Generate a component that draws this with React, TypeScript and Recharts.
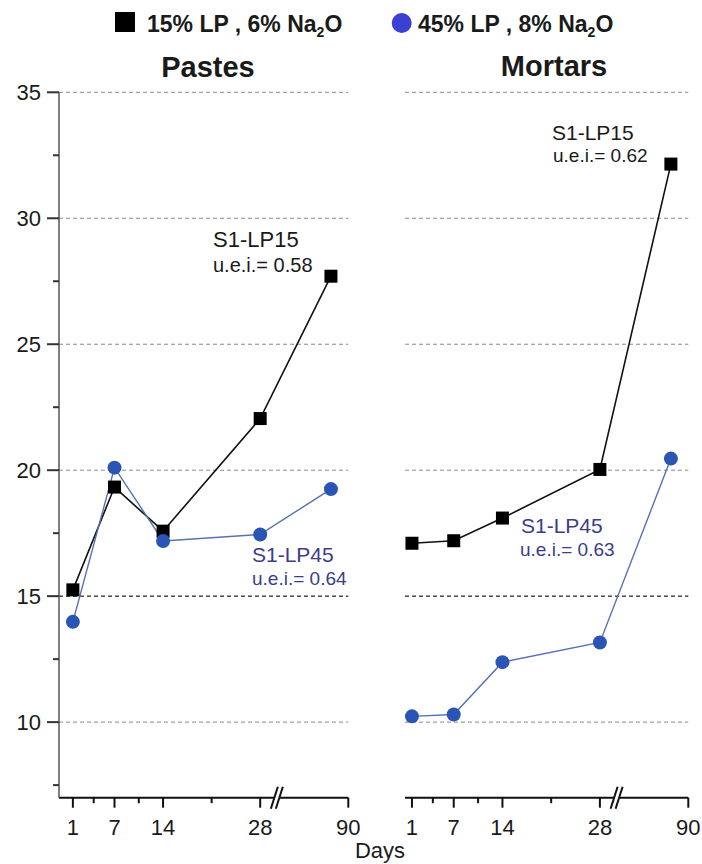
import React from 'react';
import { LineChart, Line, XAxis, YAxis, CartesianGrid, ReferenceLine } from 'recharts';

// curing age (days) and compressive strength readings
const days = [1, 7, 14, 28, 90];
const pastesLP15 = [15.25, 19.33, 17.58, 22.05, 27.7];
const pastesLP45 = [13.98, 20.1, 17.19, 17.45, 19.25];
const mortarsLP15 = [17.1, 17.2, 18.1, 20.03, 32.15];
const mortarsLP45 = [10.23, 10.3, 12.38, 13.16, 20.46];

const dayTickLabels = ['1', '7', '14', '28', '90'];
const minorDays = [4, 10.5, 21];
const yMajor = [10, 15, 20, 25, 30, 35];
const yMinor = [7.5, 12.5, 17.5, 22.5, 27.5, 32.5];

// broken x axis: everything after day 28 is squeezed
const BREAK_AT = 28;
const BREAK_SCALE = 0.1645;
const BREAK_MARK = 30.4;
const X_END = 40.7;
const axisPos = (d: number) => (d <= BREAK_AT ? d : BREAK_AT + (d - BREAK_AT) * BREAK_SCALE);
const majorPos = [1, 7, 14, 28, X_END];

const FONT = '"Liberation Sans", Arial, sans-serif';
const BLACK = '#111';
const BLUE_LINE = '#5571b3';
const BLUE_DOT = '#2a55b5';
const BLUE_TEXT = '#3c3c8c';

const buildRows = (a: number[], b: number[]) =>
  days.map((d, i) => ({ x: axisPos(d), lp15: a[i], lp45: b[i] }));

function XTick(props: any) {
  const { x, y, payload } = props;
  const v = payload.value;
  if (v === BREAK_MARK) {
    return (
      <g>
        <polygon points={`${x - 4},${y + 4} ${x},${y - 4} ${x + 5},${y - 4} ${x + 1},${y + 4}`} fill="#fff" />
        <line x1={x - 6} y1={y + 11} x2={x + 1} y2={y - 11} stroke={BLACK} strokeWidth={2} />
        <line x1={x - 1} y1={y + 11} x2={x + 6} y2={y - 11} stroke={BLACK} strokeWidth={2} />
      </g>
    );
  }
  const i = majorPos.indexOf(v);
  const major = i >= 0;
  return (
    <g>
      <line x1={x} x2={x} y1={y} y2={y + (major ? 10 : 5.5)} stroke={BLACK} strokeWidth={2} />
      {major && (
        <text x={x} y={y + 37} textAnchor="middle" fontSize={22} fontFamily={FONT} fill="#1a1a1a">
          {dayTickLabels[i]}
        </text>
      )}
    </g>
  );
}

function YTick(props: any) {
  const { x, y, payload } = props;
  const major = yMajor.includes(payload.value);
  return (
    <g>
      <line x1={x - (major ? 12 : 6)} x2={x} y1={y} y2={y} stroke="#333" strokeWidth={2} />
      {major && (
        <text x={x - 18} y={y} dy="0.36em" textAnchor="end" fontSize={22} fontFamily={FONT} fill="#1a1a1a">
          {payload.value}
        </text>
      )}
    </g>
  );
}

const squareDot = (p: any) => (
  <rect key={`sq-${p.index}`} x={p.cx - 6.5} y={p.cy - 6.5} width={13} height={13} fill="#000" />
);
const circleDot = (p: any) => (
  <circle key={`ci-${p.index}`} cx={p.cx} cy={p.cy} r={7} fill={BLUE_DOT} />
);

function Panel({ rows, left, width, marginLeft, marginRight, xMin, showY }: any) {
  return (
    <div style={{ position: 'absolute', left, top: 0 }}>
      <LineChart
        width={width}
        height={864}
        data={rows}
        margin={{ top: 92.3, right: marginRight, bottom: 0, left: marginLeft }}
      >
        <CartesianGrid vertical={false} horizontalValues={yMajor} stroke="#8a8a8a" strokeDasharray="4 3" />
        <ReferenceLine y={15} stroke="#222" strokeDasharray="4 3" />
        <XAxis
          dataKey="x"
          type="number"
          domain={[xMin, X_END]}
          allowDataOverflow
          ticks={[...minorDays, ...majorPos, BREAK_MARK].sort((a, b) => a - b)}
          interval={0}
          height={66.3}
          tickSize={0}
          tickMargin={0}
          tickLine={false}
          axisLine={{ stroke: BLACK, strokeWidth: 2 }}
          tick={(p: any) => <XTick {...p} />}
        />
        <YAxis
          type="number"
          domain={[7, 35]}
          hide={!showY}
          allowDataOverflow
          width={59}
          ticks={[...yMinor, ...yMajor].sort((a, b) => a - b)}
          interval={0}
          tickSize={0}
          tickMargin={0}
          tickLine={false}
          axisLine={{ stroke: '#555', strokeWidth: 1.5 }}
          tick={(p: any) => <YTick {...p} />}
        />
        <Line
          type="linear"
          dataKey="lp15"
          stroke={BLACK}
          strokeWidth={1.6}
          dot={squareDot}
          activeDot={false}
          isAnimationActive={false}
        />
        <Line
          type="linear"
          dataKey="lp45"
          stroke={BLUE_LINE}
          strokeWidth={1.4}
          dot={circleDot}
          activeDot={false}
          isAnimationActive={false}
        />
      </LineChart>
    </div>
  );
}

function Overlay() {
  return (
    <svg width={702} height={864} style={{ position: 'absolute', left: 0, top: 0, pointerEvents: 'none' }} fontFamily={FONT}>
      <rect x={115} y={12} width={20} height={20} fill="#000" />
      <text x={147} y={32} fontSize={23} fontWeight="bold" fill="#1a1a1a">
        15% LP , 6% Na<tspan fontSize={14} dy={5}>2</tspan>
        <tspan dy={-5}>O</tspan>
      </text>
      <circle cx={401.7} cy={23} r={10} fill="#3b40d4" />
      <text x={418} y={32} fontSize={23} fontWeight="bold" fill="#1a1a1a">
        45% LP , 8% Na<tspan fontSize={14} dy={5}>2</tspan>
        <tspan dy={-5}>O</tspan>
      </text>
      <text x={208} y={77} fontSize={29} fontWeight="bold" textAnchor="middle" fill="#1a1a1a">Pastes</text>
      <text x={554} y={76} fontSize={29} fontWeight="bold" textAnchor="middle" fill="#1a1a1a">Mortars</text>

      <text x={213} y={247} fontSize={22} fill="#1a1a1a">S1-LP15</text>
      <text x={213} y={272} fontSize={20} fill="#1a1a1a">u.e.i.= 0.58</text>
      <text x={252} y={562} fontSize={21} fill={BLUE_TEXT}>S1-LP45</text>
      <text x={252} y={585} fontSize={19} fill={BLUE_TEXT}>u.e.i.= 0.64</text>

      <text x={552} y={140} fontSize={21} fill="#1a1a1a">S1-LP15</text>
      <text x={553} y={162} fontSize={19} fill="#1a1a1a">u.e.i.= 0.62</text>
      <text x={521} y={533} fontSize={21} fill={BLUE_TEXT}>S1-LP45</text>
      <text x={520} y={556} fontSize={19} fill={BLUE_TEXT}>u.e.i.= 0.63</text>

      <text x={380} y={858} fontSize={22} textAnchor="middle" fill="#1a1a1a">Days</text>
    </svg>
  );
}

export default function App() {
  const pastes = buildRows(pastesLP15, pastesLP45);
  const mortars = buildRows(mortarsLP15, mortarsLP45);
  return (
    <div style={{ position: 'absolute', left: 0, top: 0, width: 702, height: 864, background: '#fff', overflow: 'hidden' }}>
      <Panel rows={pastes} left={0} width={360} marginLeft={0} marginRight={11.7} xMin={-1} showY />
      <Panel rows={mortars} left={360} width={342} marginLeft={45} marginRight={13.7} xMin={0} showY={false} />
      <Overlay />
    </div>
  );
}
